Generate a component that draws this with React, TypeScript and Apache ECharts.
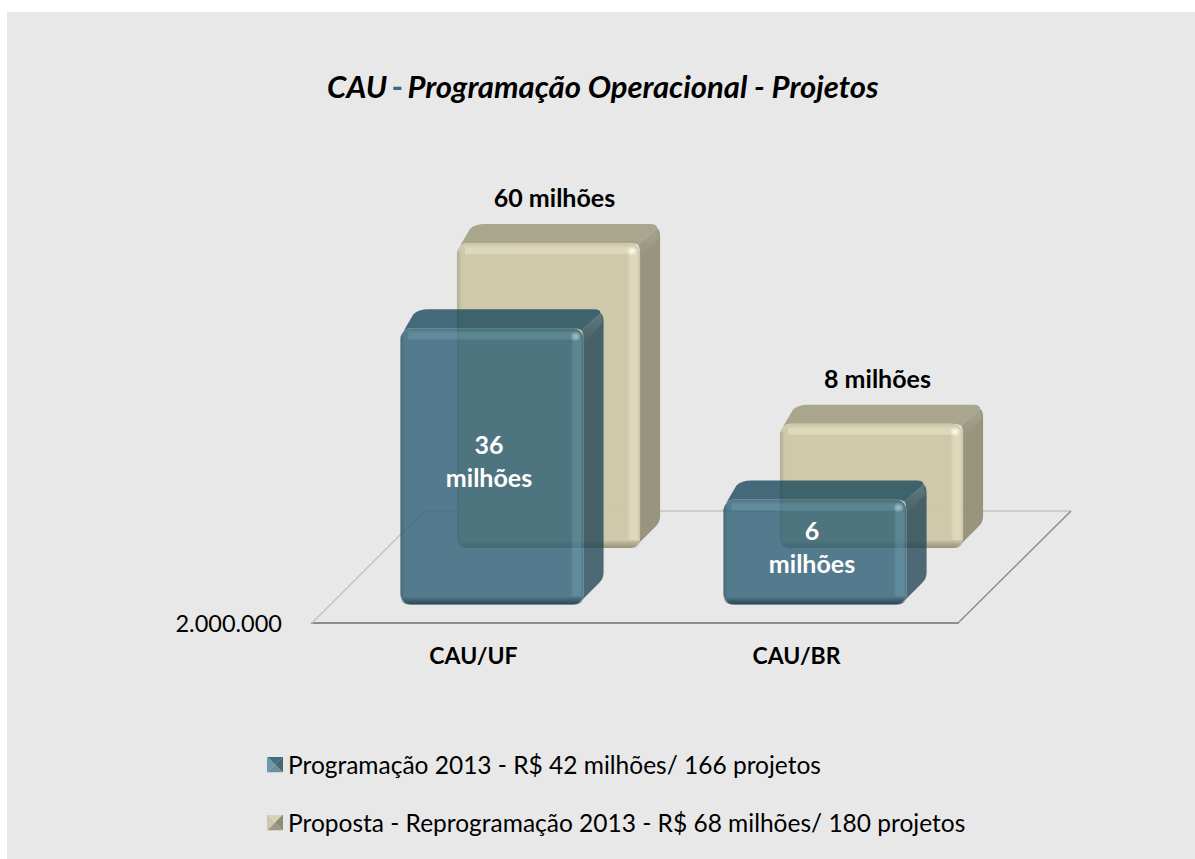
import React, { useEffect, useRef } from "react";
import * as echarts from "echarts";

const FONT = "Lato, Carlito, 'Open Sans', sans-serif";

const categories = ["CAU/UF", "CAU/BR"];
const programValues = [36000000, 6000000];
const proposalValues = [60000000, 8000000];
const programLabels = ["36\nmilhões", "6\nmilhões"];
const proposalLabels = ["60 milhões", "8 milhões"];
const programName = "Programação 2013 - R$ 42 milhões/ 166 projetos";
const proposalName = "Proposta - Reprogramação 2013 - R$ 68 milhões/ 180 projetos";
const axisBase = 2000000;
const axisTickLabels = ["2.000.000"];
const titleParts = ["CAU", "-", "Programação Operacional - Projetos"];

const W = 1195;
const H = 859;
const FLOOR_DEPTH = 112;
const BAR_DEPTH = 20;

type Look = {
  front: string;
  top: string;
  side: string;
  glow: string;
  dot: string;
  shade: string;
};

const blueLook: Look = {
  front: "rgba(46,95,117,0.8)",
  top: "rgba(26,74,92,0.8)",
  side: "rgba(36,72,87,0.8)",
  glow: "rgba(140,205,225,0.2)",
  dot: "rgba(170,225,235,0.6)",
  shade: "rgba(0,20,30,0.5)",
};
const tanLook: Look = {
  front: "rgba(203,198,166,0.93)",
  top: "rgba(165,160,135,0.93)",
  side: "rgba(145,141,117,0.93)",
  glow: "rgba(255,250,215,0.32)",
  dot: "rgba(255,255,235,0.9)",
  shade: "rgba(50,45,25,0.35)",
};

const clear = "rgba(255,255,255,0)";
const clearBlack = "rgba(0,0,0,0)";
function vGrad(a: string, b: string) {
  return { type: "linear", x: 0, y: 0, x2: 0, y2: 1, colorStops: [{ offset: 0, color: a }, { offset: 1, color: b }] };
}
function hGrad(a: string, b: string) {
  return { type: "linear", x: 0, y: 0, x2: 1, y2: 0, colorStops: [{ offset: 0, color: a }, { offset: 1, color: b }] };
}
function band(dirX: number, glow: string) {
  return {
    type: "linear", x: 0, y: 0, x2: dirX, y2: 1 - dirX,
    colorStops: [{ offset: 0, color: clear }, { offset: 0.35, color: glow }, { offset: 0.8, color: glow }, { offset: 1, color: clear }],
  };
}

function box(x: number, y: number, w: number, h: number, look: Look) {
  const d = BAR_DEPTH;
  const e = d - 1;
  const r = 11;
  const R = x + w;
  const B = y + h;
  const topPath = `M${x + 3} ${y + 3} L${x + d - 7} ${y - e + 5} Q${x + d - 2} ${y - e} ${x + d + 8} ${y - e} L${R + d - 10} ${y - e} Q${R + d - 3} ${y - e} ${R + d - 3} ${y - e + 4} L${R - 2} ${y + 2} Q${R - 5} ${y} ${R - r} ${y} L${x + r} ${y} Q${x + 6} ${y} ${x + 3} ${y + 3} Z`;
  const sidePath = `M${R - 2} ${y + 2} L${R + d - 3} ${y - e + 4} Q${R + d} ${y - e + 6} ${R + d} ${y - e + 13} L${R + d} ${B - e - 13} Q${R + d} ${B - e - 7} ${R + d - 4} ${B - e - 3} L${R - 3} ${B - 3} Q${R} ${B - 6} ${R} ${B - r} L${R} ${y + r} Q${R} ${y + 5} ${R - 2} ${y + 2} Z`;
  const ridge = `M${R - 2} ${y + 2} L${R + d - 3} ${y - e + 4} L${R + d - 1} ${y - e + 14} L${R + 1} ${y + 14} Z`;
  return [
    { type: "path", shape: { pathData: topPath }, style: { fill: look.top } },
    { type: "path", shape: { pathData: sidePath }, style: { fill: look.side } },
    { type: "path", shape: { pathData: ridge }, style: { fill: vGrad("rgba(255,255,255,0.14)", clear) } },
    { type: "rect", shape: { x, y, width: w, height: h, r }, style: { fill: look.front } },
    { type: "rect", shape: { x: x + 8, y: y + 2, width: w - 12, height: 10 }, style: { fill: band(0, look.glow) } },
    { type: "rect", shape: { x: R - 13, y: y + 6, width: 12, height: h - 14 }, style: { fill: band(1, look.glow) } },
    { type: "rect", shape: { x, y: B - 8, width: w, height: 8, r: [0, 0, r, r] }, style: { fill: vGrad(clearBlack, look.shade) } },
    { type: "rect", shape: { x, y: y + 8, width: 5, height: h - 16 }, style: { fill: hGrad("rgba(0,0,0,0.14)", clearBlack) } },
    {
      type: "circle",
      shape: { cx: R - 8, cy: y + 8, r: 5 },
      style: {
        fill: {
          type: "radial", x: 0.5, y: 0.5, r: 0.5,
          colorStops: [{ offset: 0, color: look.dot }, { offset: 1, color: clear }],
        },
      },
    },
  ];
}

function barRenderer(shift: number, look: Look, labels: string[], labelOnTop: boolean) {
  return (params: any, api: any) => {
    const cat = api.value(0);
    const topPt = api.coord([cat, api.value(1)]);
    const basePt = api.coord([cat, axisBase]);
    const width = api.size([1, 0])[0] * 0.567;
    const x = basePt[0] + shift - width / 2;
    const y = topPt[1] - shift;
    const h = basePt[1] - topPt[1];
    const label = labels[params.dataIndex];
    const text = labelOnTop
      ? {
          type: "text",
          style: {
            text: label, x: x + width / 2 + 6, y: y - 46, fill: "#000",
            fontFamily: FONT, fontWeight: "bold", fontSize: 25, align: "center", verticalAlign: "middle",
          },
        }
      : {
          type: "text",
          style: {
            text: label, x: x + width / 2 - 3, y: y + h / 2 - 6, fill: "#fff",
            fontFamily: FONT, fontWeight: "bold", fontSize: 25, lineHeight: 33, align: "center", verticalAlign: "middle",
          },
        };
    return { type: "group", children: [...box(x, y, width, h, look), text] };
  };
}

function floorRenderer(params: any) {
  const c = params.coordSys;
  const left = c.x;
  const right = c.x + c.width;
  const front = c.y + c.height;
  const back = front - FLOOR_DEPTH;
  return {
    type: "group",
    children: [
      { type: "polyline", shape: { points: [[left, front], [left + FLOOR_DEPTH, back], [right + FLOOR_DEPTH + 1, back]] }, style: { fill: "none", stroke: "#c4c4c4", lineWidth: 1.5 } },
      { type: "line", shape: { x1: right + FLOOR_DEPTH + 1, y1: back, x2: right, y2: front }, style: { stroke: "#8c8c8c", lineWidth: 1.5 } },
    ],
  };
}

function pyramid(t: string, r: string, b: string, l: string) {
  const svg = `<svg xmlns="http://www.w3.org/2000/svg" width="16" height="16"><polygon points="0,0 16,0 8,8" fill="${t}"/><polygon points="16,0 16,16 8,8" fill="${r}"/><polygon points="0,16 16,16 8,8" fill="${b}"/><polygon points="0,0 0,16 8,8" fill="${l}"/></svg>`;
  return "image://data:image/svg+xml;charset=utf-8," + encodeURIComponent(svg);
}

export default function App() {
  const ref = useRef<HTMLDivElement>(null);
  useEffect(() => {
    document.body.style.margin = "0";
    document.body.style.background = "#fff";
    const chart = echarts.init(ref.current!, null, { renderer: "svg" });
    chart.setOption({
      animation: false,
      textStyle: { fontFamily: FONT },
      graphic: [{ type: "rect", z: -10, silent: true, shape: { x: 7, y: 12, width: W - 7, height: H - 12 }, style: { fill: "#e8e8e8" } }],
      title: {
        left: 322,
        top: 65,
        text: `{a|${titleParts[0]}} {b|${titleParts[1]}} {a|${titleParts[2]}}`,
        textStyle: {
          rich: {
            a: { fontFamily: FONT, fontSize: 31, fontWeight: "bold", fontStyle: "italic", color: "#000" },
            b: { fontFamily: FONT, fontSize: 31, fontWeight: "bold", color: "#2f6f86" },
          },
        },
      },
      grid: { left: 312, top: 223, width: 646, height: 400, containLabel: false },
      xAxis: {
        type: "category",
        data: categories,
        axisTick: { show: false },
        axisLine: { lineStyle: { color: "#8c8c8c", width: 2 } },
        axisLabel: { color: "#000", fontFamily: FONT, fontWeight: "bold", fontSize: 23, margin: 20 },
        splitLine: { show: false },
      },
      // Each depth row of the 3-D plot gets its own foreshortened log scale from the same base.
      yAxis: [
        {
          type: "log", logBase: 10, min: axisBase, max: 131600000,
          axisLine: { show: false }, axisTick: { show: false }, splitLine: { show: false },
          axisLabel: {
            customValues: [axisBase], formatter: () => axisTickLabels[0],
            color: "#000", fontFamily: FONT, fontSize: 23.5, margin: 30,
          },
        },
        {
          type: "log", logBase: 10, min: axisBase, max: 173000000, show: false,
          axisLine: { show: false }, axisTick: { show: false }, splitLine: { show: false },
        },
      ],
      legend: {
        show: true, orient: "vertical", left: 262, top: 747, itemGap: 33, itemWidth: 16, itemHeight: 16,
        selectedMode: false,
        textStyle: { color: "#000", fontFamily: FONT, fontSize: 24.5 },
        data: [
          { name: programName, icon: pyramid("#3f6d80", "#466773", "#6d8e9a", "#6d99a8") },
          { name: proposalName, icon: pyramid("#d8d3b5", "#8f8b76", "#9c987f", "#cbc7ac") },
        ],
      },
      series: [
        { type: "custom", name: "floor", silent: true, renderItem: floorRenderer, data: [[0, axisBase]], encode: { x: 0, y: 1 } },
        {
          type: "custom", name: proposalName, yAxisIndex: 1, silent: true,
          renderItem: barRenderer(75, tanLook, proposalLabels, true),
          data: proposalValues.map((v, i) => [i, v]), encode: { x: 0, y: 1 },
          itemStyle: { color: "#cfcaac" },
        },
        {
          type: "custom", name: programName, yAxisIndex: 0, silent: true,
          renderItem: barRenderer(18.5, blueLook, programLabels, false),
          data: programValues.map((v, i) => [i, v]), encode: { x: 0, y: 1 },
          itemStyle: { color: "#547b8e" },
        },
      ],
    });
    return () => chart.dispose();
  }, []);
  return <div ref={ref} style={{ width: W, height: H }} />;
}
